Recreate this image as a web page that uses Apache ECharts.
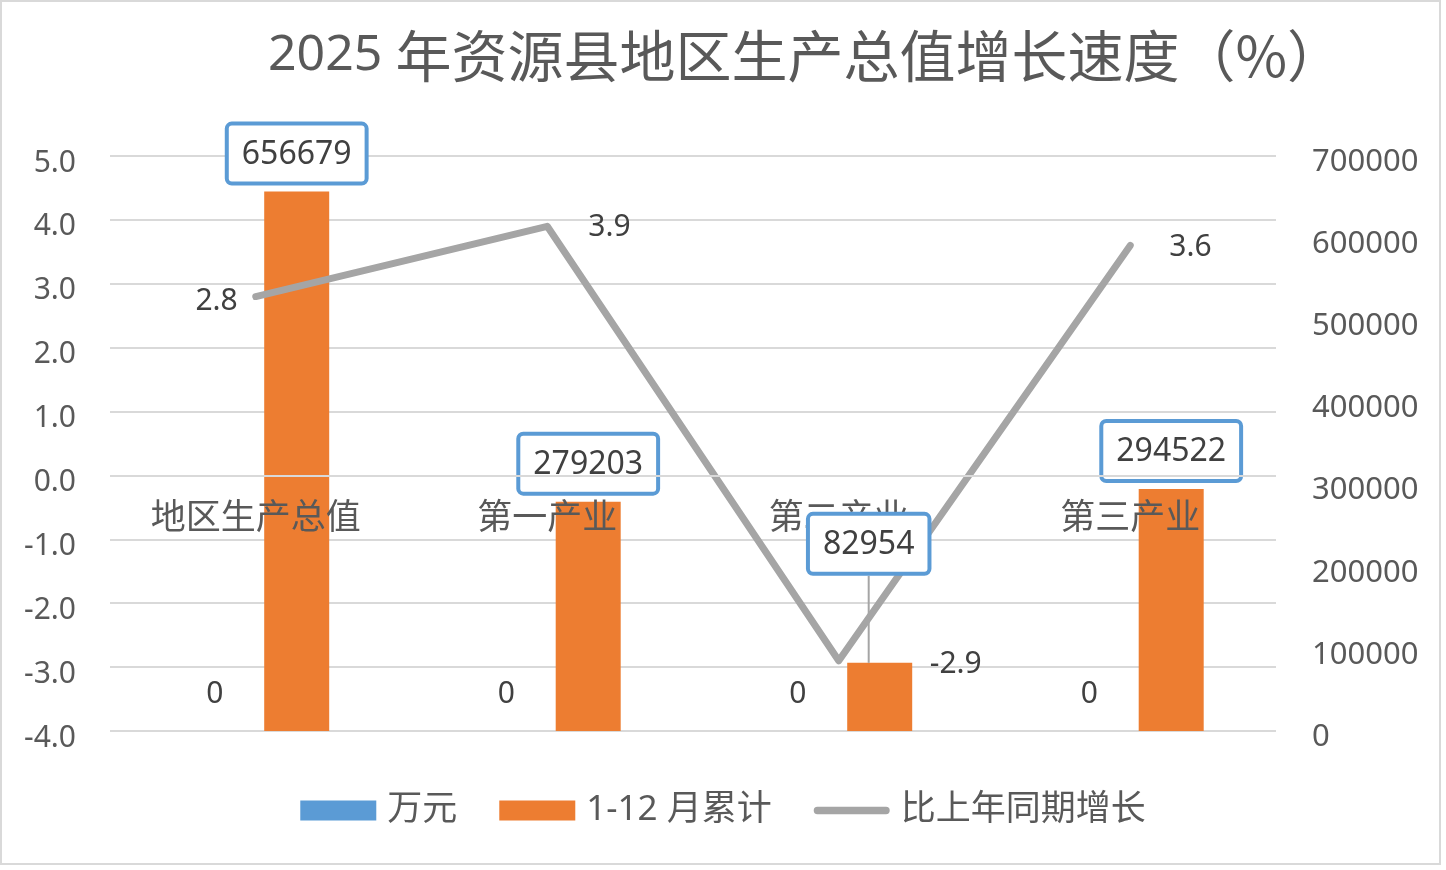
<!DOCTYPE html>
<html>
<head>
<meta charset="utf-8">
<script src="https://cdn.jsdelivr.net/npm/echarts@6/dist/echarts.min.js"></script>
<style>
html,body{margin:0;padding:0;background:#fff;}
#chart{position:absolute;left:0;top:0;width:1446px;height:870px;}
#frame{position:absolute;left:0;top:0;width:1437px;height:861px;border:2px solid #d9d9d9;pointer-events:none;}
</style>
</head>
<body>
<div id="chart"></div>
<div id="frame"></div>
<script>
// ---- data ----
var categories = ['地区生产总值', '第一产业', '第二产业', '第三产业'];
var wanYuan = [0, 0, 0, 0];
var cumulative = [656679, 279203, 82954, 294522];
var growth = [2.8, 3.9, -2.9, 3.6];
var seriesNames = ['万元', '1-12 月累计', '比上年同期增长'];
var titleYear = '2025 ';
var titleRest = '年资源县地区生产总值增长速度（%）';

// ---- styles ----
var NUM = "'Noto Sans', 'Noto Sans CJK SC', sans-serif";
var CJK = "'Noto Sans CJK SC', 'Noto Sans', sans-serif";
var lineLabelStyle = [
  {position: 'left', distance: 17, offset: [0, 5]},
  {position: 'right', distance: 40, offset: [0, 1]},
  {position: 'right', distance: 90, offset: [0, 4]},
  {position: 'right', distance: 38, offset: [0, 2]}
];
var movedLabelIndex = 2;
var legendLineIcon = 'path://M4,0 L78,0 A4,4 0 0 1 78,8 L4,8 A4,4 0 0 1 4,0 Z';
var TRANSPARENT = 'rgba(0,0,0,0)';

var chart = echarts.init(document.getElementById('chart'));

var option = {
  backgroundColor: '#fff',
  animation: false,
  title: {
    text: '{a|' + titleYear + '}{b|' + titleRest + '}',
    left: 263,
    top: 23,
    textStyle: {
      color: '#595959', fontWeight: 'normal',
      rich: {
        a: {color: '#595959', fontSize: 50, fontFamily: NUM},
        b: {color: '#595959', fontSize: 56, fontFamily: CJK}
      }
    }
  },
  legend: {
    bottom: 37,
    left: 'center',
    itemGap: 42,
    itemWidth: 76,
    itemHeight: 20,
    textStyle: {color: '#595959', fontSize: 35, fontFamily: NUM, padding: [0, 0, 0, 6]},
    data: [
      {name: seriesNames[0], icon: 'rect'},
      {name: seriesNames[1], icon: 'rect'},
      {name: seriesNames[2], icon: legendLineIcon}
    ]
  },
  grid: [
    {left: 110, right: 170, top: 156, bottom: 139, containLabel: false},
    {left: 110, right: 170, top: 156, bottom: 395, containLabel: false}
  ],
  xAxis: [
    {
      type: 'category', gridIndex: 0,
      data: categories,
      axisLine: {show: false},
      axisTick: {show: false},
      axisLabel: {show: false}
    },
    {
      type: 'category', gridIndex: 1,
      data: categories,
      z: 3,
      axisLine: {show: false},
      axisTick: {show: false},
      axisLabel: {color: '#595959', fontSize: 35, fontFamily: CJK, margin: 23}
    },
    {
      type: 'category', gridIndex: 0,
      data: categories,
      show: false
    }
  ],
  yAxis: [
    {
      type: 'value', gridIndex: 0, min: -4, max: 5, interval: 1, position: 'left',
      axisLine: {show: false}, axisTick: {show: false},
      splitLine: {show: true, lineStyle: {color: '#d9d9d9', width: 2}},
      axisLabel: {color: '#595959', fontSize: 30, fontFamily: NUM, margin: 34,
        verticalAlign: 'top', lineHeight: 14,
        formatter: function (v) { return v.toFixed(1); }}
    },
    {
      type: 'value', gridIndex: 0, min: 0, max: 700000, interval: 100000, position: 'right',
      axisLine: {show: false}, axisTick: {show: false},
      splitLine: {show: false},
      axisLabel: {color: '#595959', fontSize: 31, fontFamily: NUM, margin: 36, align: 'left',
        verticalAlign: 'top', lineHeight: 12,
        formatter: function (v) { return String(v); }}
    },
    {
      type: 'value', gridIndex: 1, min: 0, max: 1, show: false
    }
  ],
  series: [
    {
      name: seriesNames[0],
      type: 'bar',
      xAxisIndex: 0,
      yAxisIndex: 1,
      data: wanYuan,
      barWidth: 65,
      barGap: '26%',
      itemStyle: {color: '#5b9bd5'},
      label: {show: true, position: 'top', distance: 22, color: '#404040', fontSize: 30, fontFamily: NUM}
    },
    {
      name: seriesNames[1],
      type: 'bar',
      xAxisIndex: 0,
      yAxisIndex: 1,
      barWidth: 65,
      barGap: '26%',
      data: cumulative,
      itemStyle: {color: '#ed7d31'}
    },
    {
      name: seriesNames[2],
      type: 'line',
      xAxisIndex: 0,
      yAxisIndex: 0,
      symbol: 'circle',
      symbolSize: 2,
      showSymbol: true,
      data: growth.map(function (v, i) {
        var s = lineLabelStyle[i];
        return {value: v, label: {show: true, position: s.position, distance: s.distance, offset: s.offset}};
      }),
      lineStyle: {color: '#a5a5a5', width: 7, cap: 'round', join: 'round'},
      itemStyle: {color: '#a5a5a5'},
      label: {show: true, color: '#404040', fontSize: 30, fontFamily: NUM},
      markLine: {
        silent: true, symbol: 'none', label: {show: false},
        lineStyle: {color: '#d9d9d9', width: 2, type: 'solid'},
        emphasis: {disabled: true},
        data: [{yAxis: 0}]
      }
    },
    // invisible twin of the two bar series, used only to draw the value callouts above the category labels
    {
      name: '_slot',
      type: 'bar',
      xAxisIndex: 2,
      yAxisIndex: 1,
      barWidth: 65,
      barGap: '26%',
      silent: true,
      data: wanYuan,
      itemStyle: {color: TRANSPARENT}
    },
    {
      name: '_callout',
      type: 'bar',
      xAxisIndex: 2,
      yAxisIndex: 1,
      barWidth: 65,
      barGap: '26%',
      z: 4,
      silent: true,
      data: cumulative.map(function (v, i) {
        return i === movedLabelIndex ? {value: v, labelLine: {show: true}} : v;
      }),
      itemStyle: {color: TRANSPARENT},
      label: {
        show: true, position: 'top', distance: 10,
        color: '#404040', fontSize: 32, fontFamily: NUM,
        backgroundColor: '#fff', borderColor: '#5b9bd5', borderWidth: 4, borderRadius: 3,
        padding: [13, 13, 11, 13]
      },
      labelLine: {show: false, lineStyle: {color: '#a5a5a5', width: 2}},
      labelLayout: function (p) {
        if (p.dataIndex === movedLabelIndex) return {dx: -11, dy: -81};
        return {};
      }
    }
  ]
};
chart.setOption(option);
</script>
</body>
</html>
